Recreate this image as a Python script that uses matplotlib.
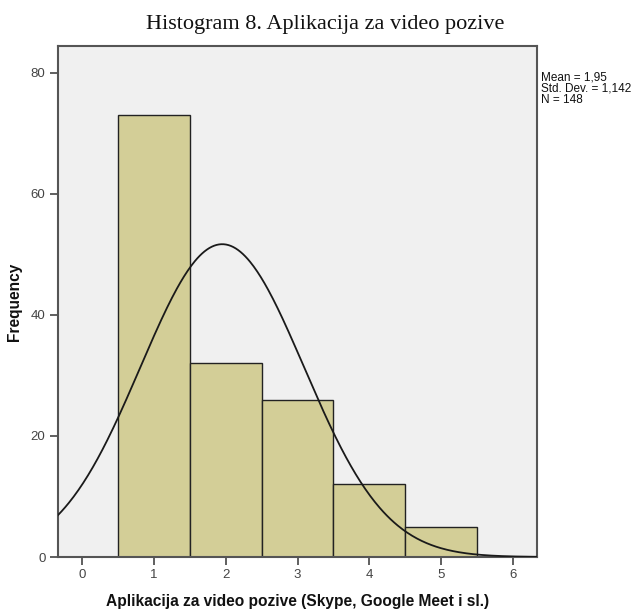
import numpy as np
import matplotlib
matplotlib.use("Agg")
import matplotlib.pyplot as plt

title = "Histogram 8. Aplikacija za video pozive"
xlabel = "Aplikacija za video pozive (Skype, Google Meet i sl.)"
ylabel = "Frequency"
bin_centers = [1, 2, 3, 4, 5]
frequencies = [73, 32, 26, 12, 5]
mean = 1.95
std = 1.142
n = 148
xticks = [0, 1, 2, 3, 4, 5, 6]
yticks = [0, 20, 40, 60, 80]

fig = plt.figure(figsize=(6.42, 6.09), dpi=100)
ax = fig.add_axes([58/642, 1-557/609, (537-58)/642, (557-46)/609])
ax.set_facecolor("#F0F0F0")
ax.bar(bin_centers, frequencies, width=1.0, color="#D3CE97", edgecolor="#222222", linewidth=1.0, zorder=2)

xs = np.linspace(-0.34, 6.34, 400)
ys = n * 1.0 / (std * np.sqrt(2*np.pi)) * np.exp(-0.5*((xs-mean)/std)**2)
ax.plot(xs, ys, color="#1a1a1a", linewidth=1.3, zorder=3)

ax.set_xlim(-0.34, 6.34)
ax.set_ylim(0, 84.46)
ax.set_xticks(xticks)
ax.set_yticks(yticks)
for s in ax.spines.values():
    s.set_color("#555555")
    s.set_linewidth(1.5)
ax.tick_params(direction="out", length=6, width=1.2, color="#444444", labelcolor="#444444", labelsize=9.5, pad=3)
for lab in ax.get_xticklabels() + ax.get_yticklabels():
    lab.set_family("Liberation Sans")

ax.set_xlabel(xlabel, fontsize=11.2, fontweight="bold", family="Liberation Sans", labelpad=9, color="#111111")
ax.set_ylabel(ylabel, fontsize=11.2, fontweight="bold", family="Liberation Sans", labelpad=6, color="#111111")

fig.text(325/642, 1-24/609, title, ha="center", va="center", fontsize=16, family="Liberation Serif", color="#111111")
fig.text(541/642, 1-71/609, "Mean = 1,95\nStd. Dev. = 1,142\nN = 148", ha="left", va="top",
         fontsize=8.5, family="Liberation Sans", linespacing=0.95, color="#111111")

fig.savefig("out.png", dpi=100)
